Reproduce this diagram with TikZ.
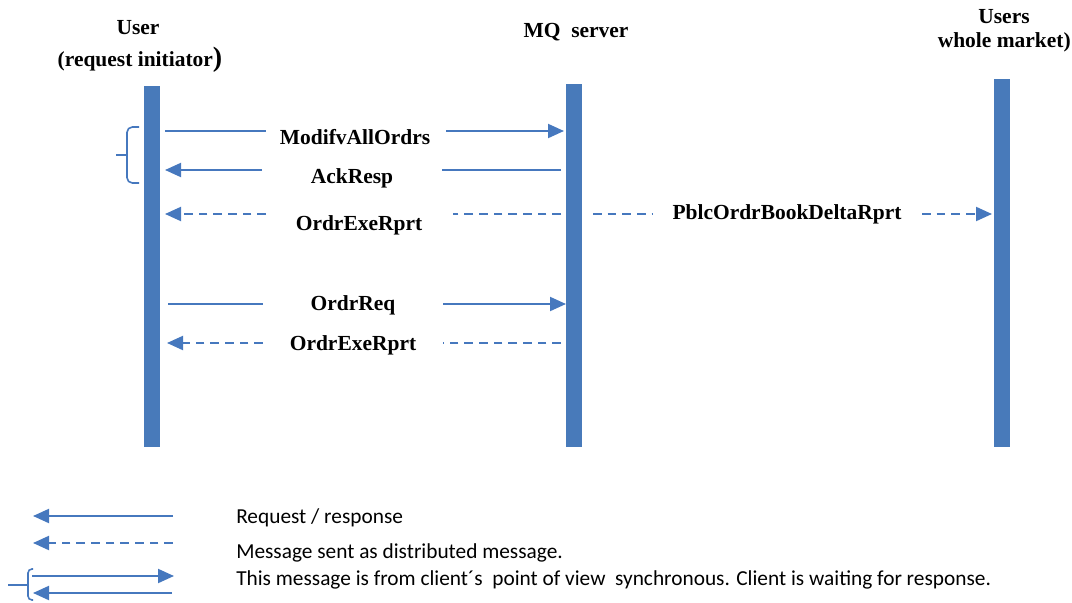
\documentclass[tikz,border=0pt]{standalone}
\usepackage{fontspec}
\setmainfont{Liberation Serif}
\newfontfamily\legendfont{Carlito}
\usetikzlibrary{arrows.meta}
\definecolor{barblue}{RGB}{72,122,186}
\definecolor{lineblue}{RGB}{70,120,190}
\begin{document}
\begin{tikzpicture}[x=0.75pt,y=-0.75pt,
  lifeline/.style={fill=barblue, draw=none, minimum width=12pt, inner sep=0pt},
  msg/.style={draw=lineblue, line width=1.5pt},
  dmsg/.style={msg, dash pattern=on 6.5pt off 4.5pt},
  tip/.style={-{Triangle[length=12pt,width=10.5pt]}, lineblue},
  lbl/.style={font=\fontsize{16.1}{19}\selectfont\bfseries, inner sep=0pt},
  head/.style={lbl, align=center},
  legtext/.style={font=\legendfont\fontsize{16}{18}\selectfont, anchor=west, inner sep=0pt},
  bracepath/.style={draw=lineblue, line width=1.2pt}]
\useasboundingbox (0,0) rectangle (1072,603);

% headers
\node[head] (hUser) at (138,28) {User};
\node[head] (hInit) at (140,60) {(request initiator{\fontsize{21}{21}\selectfont)}};
\node[head] (hMQ) at (576,32) {MQ\ \ server};
\node[head] (hUsers) at (1004,17) {Users};
\node[head, anchor=east] (hMarket) at (1071,42) {whole market)};

% lifelines
\node[lifeline, minimum height=270.75pt] (lUser) at (152,266.5) {};
\node[lifeline, minimum height=272.25pt] (lMQ) at (574,265.5) {};
\node[lifeline, minimum height=276pt] (lUsers) at (1002,263) {};

% row 1: ModifvAllOrdrs
\node[lbl] (t1) at (355,137) {ModifvAllOrdrs};
\coordinate (a1) at (165,131); \coordinate (b1) at (266,131);
\coordinate (c1) at (446,131); \coordinate (d1) at (564,131);
\draw[msg] (a1) -- (b1);
\draw[msg,tip] (c1) -- (d1);

% row 2: AckResp
\node[lbl] (t2) at (352,178) {AckResp};
\coordinate (a2) at (561,170); \coordinate (b2) at (442,170);
\coordinate (c2) at (262,170); \coordinate (d2) at (165,170);
\draw[msg] (a2) -- (b2);
\draw[msg,tip] (c2) -- (d2);

% row 3: OrdrExeRprt (dashed)
\node[lbl] (t3) at (359,225) {OrdrExeRprt};
\coordinate (a3) at (561,214); \coordinate (b3) at (453,214);
\coordinate (c3) at (266,214); \coordinate (d3) at (165,214);
\draw[dmsg] (a3) -- (b3);
\draw[dmsg,tip] (c3) -- (d3);

% row 3b: PblcOrdrBookDeltaRprt (dashed)
\node[lbl] (t3b) at (787,214) {PblcOrdrBookDeltaRprt};
\coordinate (a3b) at (593,214); \coordinate (b3b) at (653,214);
\coordinate (c3b) at (922,214); \coordinate (d3b) at (992,214);
\draw[dmsg] (a3b) -- (b3b);
\draw[dmsg,tip] (c3b) -- (d3b);

% row 4: OrdrReq
\node[lbl] (t4) at (353,305) {OrdrReq};
\coordinate (a4) at (168,304); \coordinate (b4) at (263,304);
\coordinate (c4) at (443,304); \coordinate (d4) at (566,304);
\draw[msg] (a4) -- (b4);
\draw[msg,tip] (c4) -- (d4);

% row 5: OrdrExeRprt (dashed)
\node[lbl] (t5) at (353,345) {OrdrExeRprt};
\coordinate (a5) at (561,343); \coordinate (b5) at (443,343);
\coordinate (c5) at (263,343); \coordinate (d5) at (167,343);
\draw[dmsg] (a5) -- (b5);
\draw[dmsg,tip] (c5) -- (d5);

% sync brace
\coordinate (br1) at (139,127); \coordinate (br2) at (139,183);
\coordinate (brm) at (127,155); \coordinate (brt) at (116,155);
\draw[bracepath, rounded corners=4pt] (br1) -- (127,127) -- (brm) -- (127,183) -- (br2);
\draw[bracepath] (brm) -- (brt);

% legend
\coordinate (la1) at (173,516); \coordinate (lb1) at (33,516);
\draw[msg,tip] (la1) -- (lb1);
\coordinate (la2) at (173,543); \coordinate (lb2) at (33,543);
\draw[dmsg,tip] (la2) -- (lb2);
\coordinate (la3) at (32,576); \coordinate (lb3) at (174,576);
\draw[msg,tip] (la3) -- (lb3);
\coordinate (la4) at (172,593); \coordinate (lb4) at (33,593);
\draw[msg,tip] (la4) -- (lb4);
\coordinate (lbr1) at (33,569); \coordinate (lbr2) at (33,600);
\coordinate (lbrm) at (28,585); \coordinate (lbrt) at (8,585);
\draw[bracepath, rounded corners=3pt] (lbr1) -- (28,569) -- (lbrm) -- (28,600) -- (lbr2);
\draw[bracepath] (lbrm) -- (lbrt);

\node[legtext] (lt1) at (236,518) {Request / response};
\node[legtext] (lt2) at (236,553) {Message sent as distributed message.};
\node[legtext] (lt3) at (236,580) {This message is from client´s\ \ point of view\ \ synchronous. Client is waiting for response.};
\end{tikzpicture}
\end{document}
